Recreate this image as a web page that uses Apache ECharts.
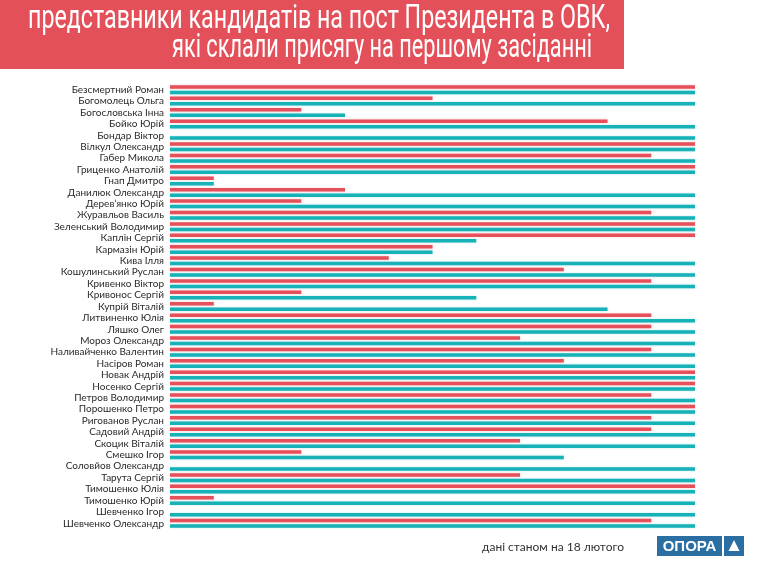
<!DOCTYPE html>
<html>
<head>
<meta charset="utf-8">
<title>ОВК</title>
<script src="https://cdn.jsdelivr.net/npm/echarts@6/dist/echarts.min.js"></script>
<style>
    html, body { margin: 0; padding: 0; background: #fff; }
    #main { width: 768px; height: 576px; }
</style>
</head>
<body>
<div id="main"></div>
<script>
// кандидати (зверху вниз)
var names = ['Безсмертний Роман','Богомолець Ольга','Богословська Інна','Бойко Юрій','Бондар Віктор',
    'Вілкул Олександр','Габер Микола','Гриценко Анатолій','Гнап Дмитро','Данилюк Олександр',
    'Дерев\u2019янко Юрій','Журавльов Василь','Зеленський Володимир','Каплін Сергій','Кармазін Юрій',
    'Кива Ілля','Кошулинський Руслан','Кривенко Віктор','Кривонос Сергій','Купрій Віталій',
    'Литвиненко Юлія','Ляшко Олег','Мороз Олександр','Наливайченко Валентин','Насіров Роман',
    'Новак Андрій','Носенко Сергій','Петров Володимир','Порошенко Петро','Ригованов Руслан',
    'Садовий Андрій','Скоцик Віталій','Смешко Ігор','Соловйов Олександр','Тарута Сергій',
    'Тимошенко Юлія','Тимошенко Юрій','Шевченко Ігор','Шевченко Олександр'];

// червоні смуги
var redVals = [12,6,3,10,0, 12,11,12,1,4, 3,11,12,12,6, 5,9,11,3,1,
    11,11,8,11,9, 12,12,11,12,11, 11,8,3,0,8, 12,1,0,11];

// бірюзові смуги
var tealVals = [12,12,4,12,12, 12,12,12,1,12, 12,12,12,7,6, 12,12,12,7,10,
    12,12,12,12,12, 12,12,12,12,12, 12,12,9,12,12, 12,12,12,12];

var titleLines = ['представники кандидатів на пост Президента в ОВК,',
    'які склали присягу на першому засіданні'];

var colors = ['#e6505b', '#16b2b8'];

// стиснення заголовка під потрібну ширину
var titleFont = '33px Roboto, sans-serif';
var ctx = document.createElement('canvas').getContext('2d');
ctx.font = titleFont;
function fitScale(text, w) {
    return w / ctx.measureText(text).width;
}

var option = {
    backgroundColor: '#ffffff',
    animation: false,
    grid: {
        left: 170,
        right: 73,
        top: 84,
        height: 445
    },
    xAxis: {
        type: 'value',
        min: 0,
        max: 12,
        show: false
    },
    yAxis: {
        type: 'category',
        inverse: true,
        data: names,
        axisLine: { show: false },
        axisTick: { show: false },
        splitLine: { show: false },
        axisLabel: {
            interval: 0,
            margin: 6,
            fontSize: 10,
            fontFamily: 'Lato',
            color: '#2a2a2a'
        }
    },
    series: [
        {
            name: 'червоний',
            type: 'bar',
            data: redVals,
            barWidth: 3.5,
            barGap: '57%',
            itemStyle: { color: colors[0], shadowColor: 'rgba(230,80,91,0.35)', shadowBlur: 2 }
        },
        {
            name: 'бірюзовий',
            type: 'bar',
            data: tealVals,
            barWidth: 3.5,
            itemStyle: { color: colors[1], shadowColor: 'rgba(22,178,184,0.35)', shadowBlur: 2 }
        }
    ],
    graphic: [
        {
            type: 'rect',
            x: 0, y: 0,
            shape: { width: 624, height: 69 },
            style: { fill: '#e3505a' },
            z: 1
        },
        {
            type: 'text',
            x: 610, y: 20,
            scaleX: fitScale(titleLines[0], 582),
            style: {
                text: titleLines[0],
                fill: '#fff',
                font: titleFont,
                align: 'right',
                verticalAlign: 'middle'
            },
            z: 2
        },
        {
            type: 'text',
            x: 592, y: 49,
            scaleX: fitScale(titleLines[1], 420),
            style: {
                text: titleLines[1],
                fill: '#fff',
                font: titleFont,
                align: 'right',
                verticalAlign: 'middle'
            },
            z: 2
        },
        {
            type: 'text',
            x: 482, y: 547,
            style: {
                text: 'дані станом на 18 лютого',
                fill: '#333',
                font: '12px Lato, sans-serif',
                verticalAlign: 'middle'
            }
        },
        {
            type: 'rect',
            x: 657, y: 536,
            shape: { width: 65, height: 20 },
            style: { fill: '#2b6ea2' }
        },
        {
            type: 'text',
            x: 689.5, y: 546.5,
            style: {
                text: 'ОПОРА',
                fill: '#fff',
                font: 'bold 15px "Liberation Sans", sans-serif',
                align: 'center',
                verticalAlign: 'middle'
            }
        },
        {
            type: 'rect',
            x: 724, y: 536,
            shape: { width: 20, height: 20 },
            style: { fill: '#2b6ea2' }
        },
        {
            type: 'polygon',
            shape: { points: [[734, 540], [739.5, 551], [728.5, 551]] },
            style: { fill: '#fff' }
        }
    ]
};

var chart = echarts.init(document.getElementById('main'));
chart.setOption(option);
</script>
</body>
</html>
